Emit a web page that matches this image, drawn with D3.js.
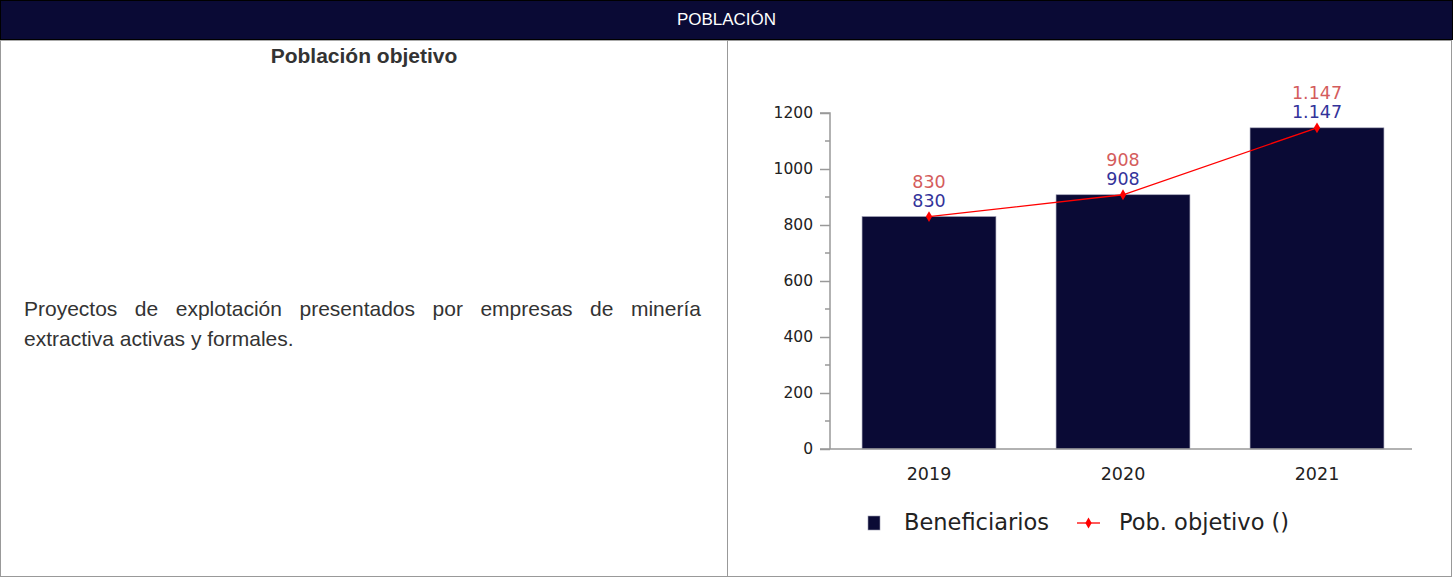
<!DOCTYPE html>
<html>
<head>
<meta charset="utf-8">
<script src="https://cdn.jsdelivr.net/npm/d3@7"></script>
<style>
  html, body { margin: 0; padding: 0; background: #fff; }
  body { width: 1453px; height: 577px; position: relative; overflow: hidden; font-family: "Liberation Sans", Arial, sans-serif; }
  .head { position: absolute; left: 0; top: 0; width: 1451px; height: 38px; background: #0a0a35; border: 1px solid #000;
          color: #fff; font-size: 17px; text-align: center; line-height: 38px; }
  .left { position: absolute; left: 0; top: 40px; width: 726px; height: 535px; border: 1px solid #999; border-top: 1px solid #aaa; }
  .right { position: absolute; left: 727px; top: 40px; width: 724px; height: 535px; border: 1px solid #999; border-left: none; }
  .left h3 { margin: 0; position: absolute; top: 3px; width: 100%; text-align: center; font-size: 21px; color: #333; font-weight: bold; }
  .left p { position: absolute; left: 23px; top: 253px; width: 677px; margin: 0; font-size: 21px; line-height: 30px; color: #333; text-align: justify; }
  #chart { position: absolute; left: 0; top: 0; }
</style>
</head>
<body>
<div class="head">POBLACIÓN</div>
<div class="left">
  <h3>Población objetivo</h3>
  <p>Proyectos de explotación presentados por empresas de minería extractiva activas y formales.</p>
</div>
<div class="right"></div>
<svg id="chart" width="1453" height="577"></svg>
<script>
const years = ['2019', '2020', '2021'];
const beneficiarios = [830, 908, 1147];
const pobObjetivo = [830, 908, 1147];
const yTicks = [0, 200, 400, 600, 800, 1000, 1200];
const yMinor = [100, 300, 500, 700, 900, 1100];
const labels = ['830', '908', '1.147'];

const svg = d3.select('#chart');
const font = '"DejaVu Sans", Verdana, sans-serif';

const x = d3.scaleBand().domain(years).range([832, 1414]).paddingInner(0.31).paddingOuter(0.155);
const y = d3.scaleLinear().domain([0, 1200]).range([449, 113]);

// bars
svg.append('g').selectAll('rect').data(years).join('rect')
  .attr('x', d => x(d))
  .attr('y', (d, i) => y(beneficiarios[i]))
  .attr('width', x.bandwidth())
  .attr('height', (d, i) => y(0) - y(beneficiarios[i]))
  .attr('fill', '#0a0a35')
  .attr('stroke', '#9a9ab0').attr('stroke-width', 0.6);

// y axis
const yAxis = svg.append('g').attr('transform', 'translate(830,0)')
  .call(d3.axisLeft(y).tickValues(yTicks).tickSize(10).tickPadding(7).tickFormat(d3.format('d')));
yAxis.select('.domain').attr('stroke', '#999').attr('stroke-width', 1.5).attr('d', `M0,${y(0)}V${y(1200)}H-10`);
yAxis.selectAll('.tick line').attr('stroke', '#999').attr('stroke-width', 1.5);
yAxis.selectAll('.tick text').attr('font-family', font).attr('font-size', 15.5).attr('fill', '#222');
// minor ticks
svg.append('g').selectAll('line').data(yMinor).join('line')
  .attr('x1', 825).attr('x2', 830).attr('y1', d => y(d)).attr('y2', d => y(d))
  .attr('stroke', '#999').attr('stroke-width', 1.5);

// x axis
const xAxis = svg.append('g').attr('transform', `translate(0,${y(0)})`)
  .call(d3.axisBottom(x).tickSize(0).tickPadding(19));
xAxis.select('.domain').attr('stroke', '#999').attr('stroke-width', 1.5).attr('d', 'M820,0H1412');
xAxis.selectAll('.tick text').attr('font-family', font).attr('font-size', 17.5).attr('fill', '#222');

// line
const cx = d => x(d) + x.bandwidth() / 2;
svg.append('path').datum(years)
  .attr('fill', 'none').attr('stroke', '#ff0000').attr('stroke-width', 1.3)
  .attr('d', d3.line().x(cx).y((d, i) => y(pobObjetivo[i])));
svg.append('g').selectAll('path').data(years).join('path')
  .attr('d', d3.symbol(d3.symbolDiamond, 34))
  .attr('transform', (d, i) => `translate(${cx(d)},${y(pobObjetivo[i])})`)
  .attr('fill', '#ff0000');

// value labels
svg.append('g').selectAll('text').data(years).join('text')
  .attr('x', cx).attr('y', (d, i) => y(pobObjetivo[i]) - 29)
  .attr('text-anchor', 'middle').attr('font-family', font).attr('font-size', 17.5)
  .attr('fill', '#d45c5c').text((d, i) => labels[i]);
svg.append('g').selectAll('text').data(years).join('text')
  .attr('x', cx).attr('y', (d, i) => y(beneficiarios[i]) - 10)
  .attr('text-anchor', 'middle').attr('font-family', font).attr('font-size', 17.5)
  .attr('fill', '#33339a').text((d, i) => labels[i]);

// legend
const lg = svg.append('g').attr('font-family', font).attr('font-size', 22.5).attr('fill', '#222');
lg.append('rect').attr('x', 868).attr('y', 516).attr('width', 12).attr('height', 14)
  .attr('fill', '#0a0a35').attr('stroke', '#9a9ab0').attr('stroke-width', 0.6);
lg.append('text').attr('x', 904).attr('y', 530).text('Beneficiarios');
lg.append('line').attr('x1', 1077).attr('x2', 1100).attr('y1', 523).attr('y2', 523).attr('stroke', '#ff0000').attr('stroke-width', 1.3);
lg.append('path').attr('d', d3.symbol(d3.symbolDiamond, 34)).attr('transform', 'translate(1088.5,523)').attr('fill', '#ff0000');
lg.append('text').attr('x', 1119).attr('y', 530).text('Pob. objetivo ()');
</script>
</body>
</html>
